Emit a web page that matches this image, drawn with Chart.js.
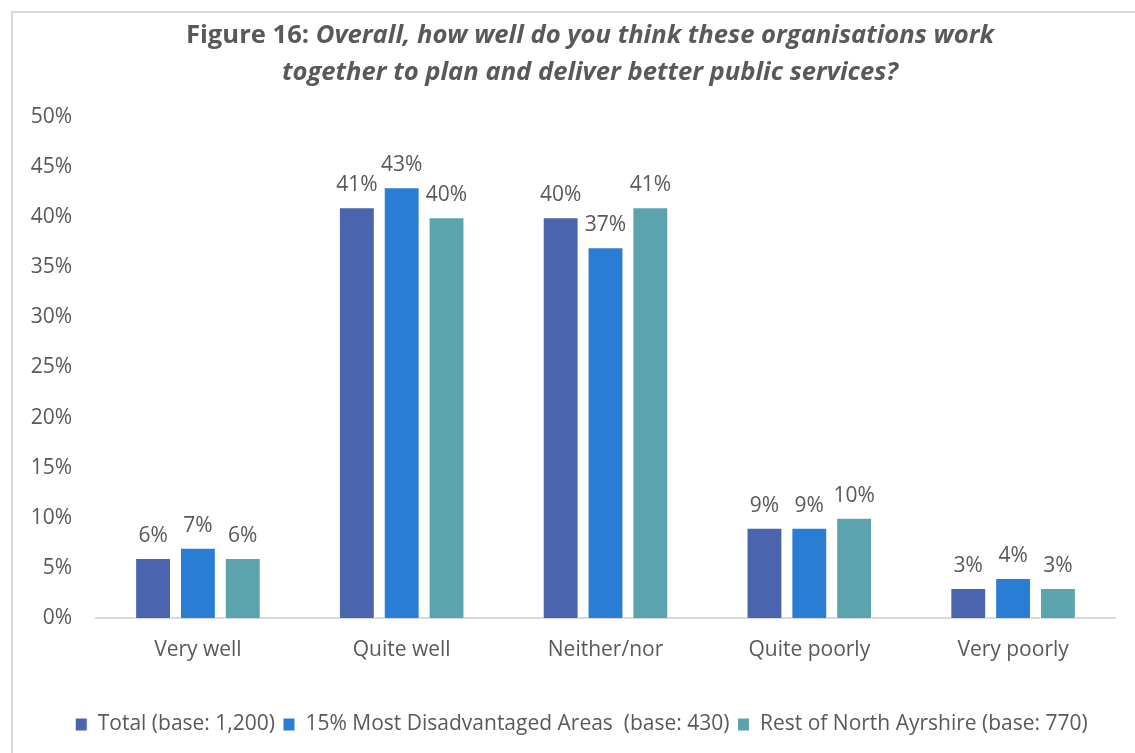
<!DOCTYPE html>
<html>
<head>
<meta charset="utf-8">
<script src="https://cdn.jsdelivr.net/npm/chart.js@4"></script>
<style>
  body { margin: 0; background: #fff; }
  #frame {
    position: absolute; left: 11px; top: 11px; width: 1124px; height: 742px;
    border-left: 2px solid #d9d9d9; border-top: 2px solid #d9d9d9;
  }
  #wrap { position: absolute; left: 0; top: 0; width: 1135px; height: 753px; }
  #title {
    position: absolute; left: 0; top: 15px; width: 1180px; text-align: center;
    font-family: "Open Sans", sans-serif; font-weight: bold; font-size: 25.6px;
    line-height: 37px; color: #595959;
  }
  #title i { font-style: italic; }
</style>
</head>
<body>
<div id="frame"></div>
<div id="wrap"><canvas id="chart" width="1135" height="753"></canvas></div>
<div id="title">Figure 16: <i>Overall, how well do you think these organisations work<br>together to plan and deliver better public services?</i></div>
<script>
const categories = ['Very well', 'Quite well', 'Neither/nor', 'Quite poorly', 'Very poorly'];
const seriesNames = ['Total (base: 1,200)', '15% Most Disadvantaged Areas  (base: 430)', 'Rest of North Ayrshire (base: 770)'];
const totalValues = [6, 41, 40, 9, 3];
const disadvantagedValues = [7, 43, 37, 9, 4];
const restValues = [6, 40, 41, 10, 3];
const yTicks = [0, 5, 10, 15, 20, 25, 30, 35, 40, 45, 50];

const colors = ['#4a65ad', '#2a7dd5', '#5ba3ad'];
const textColor = '#595959';
const fontFamily = '"Open Sans", sans-serif';

// Draw the value labels above each bar
const barLabels = {
    id: 'barLabels',
    afterDatasetsDraw(chart) {
        const ctx = chart.ctx;
        ctx.save();
        ctx.fillStyle = textColor;
        ctx.font = '21px ' + fontFamily;
        ctx.textAlign = 'center';
        ctx.textBaseline = 'alphabetic';
        chart.data.datasets.forEach((ds, i) => {
            chart.getDatasetMeta(i).data.forEach((bar, j) => {
                ctx.fillText(ds.data[j] + '%', bar.x, bar.y - 16);
            });
        });
        ctx.restore();
    }
};

// Legend in the original sits a bit right of the canvas centre
const legendShift = {
    id: 'legendShift',
    afterLayout(chart) {
        chart.legend.left += 24;
        chart.legend.right += 24;
    }
};

new Chart(document.getElementById('chart').getContext('2d'), {
    type: 'bar',
    data: {
        labels: categories,
        datasets: [
            { label: seriesNames[0], data: totalValues, backgroundColor: colors[0] },
            { label: seriesNames[1], data: disadvantagedValues, backgroundColor: colors[1] },
            { label: seriesNames[2], data: restValues, backgroundColor: colors[2] }
        ].map(ds => ({ ...ds, borderColor: '#ffffff', borderWidth: 1, categoryPercentage: 0.66, barPercentage: 0.8 }))
    },
    options: {
        responsive: false,
        animation: false,
        layout: { padding: { top: 117, right: 20, bottom: 8, left: 0 } },
        scales: {
            y: {
                min: 0, max: 50,
                afterFit: scale => { scale.width = 96; },
                afterBuildTicks: scale => { scale.ticks = yTicks.map(v => ({ value: v })); },
                grid: { display: false, drawTicks: false },
                border: { display: false },
                ticks: { padding: 24, color: textColor, font: { family: fontFamily, size: 21 }, callback: v => v + '%' }
            },
            x: {
                afterFit: scale => { scale.height = 88; },
                grid: { display: false, drawTicks: false },
                border: { display: true, color: '#d9d9d9', width: 2 },
                ticks: { padding: 19, color: textColor, font: { family: fontFamily, size: 21 } }
            }
        },
        plugins: {
            legend: {
                position: 'bottom',
                labels: { boxWidth: 12, boxHeight: 13, padding: 8, color: textColor, font: { family: fontFamily, size: 21 } }
            },
            tooltip: { enabled: false }
        }
    },
    plugins: [barLabels, legendShift]
});
</script>
</body>
</html>
